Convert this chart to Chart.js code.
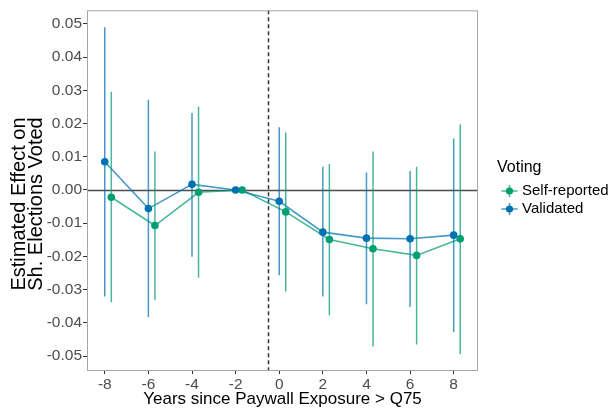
<!DOCTYPE html>
<html>
<head>
<meta charset="utf-8">
<script src="https://cdn.jsdelivr.net/npm/chart.js@4.4.1/dist/chart.umd.min.js"></script>
<style>
  html, body { margin: 0; padding: 0; background: #ffffff; }
  #wrap { width: 611px; height: 408px; }
</style>
</head>
<body>
<div id="wrap"><canvas id="c" width="611" height="408"></canvas></div>
<script>
// Event-study estimates: years relative to paywall exposure (> Q75)
const years = [-8, -6, -4, -2, 0, 2, 4, 6, 8];

// Validated turnout
const validatedEst = [0.0085, -0.0056, 0.0017, 0.0000, -0.0034, -0.0127, -0.0145, -0.0147, -0.0136];
const validatedLo  = [-0.0321, -0.0383, -0.0201, 0.0000, -0.0257, -0.0321, -0.0344, -0.0352, -0.0428];
const validatedHi  = [0.0490, 0.0272, 0.0232, 0.0000, 0.0189, 0.0070, 0.0053, 0.0057, 0.0155];

// Self-reported turnout
const selfEst = [-0.0022, -0.0107, -0.0007, 0.0000, -0.0066, -0.0149, -0.0177, -0.0197, -0.0147];
const selfLo  = [-0.0338, -0.0331, -0.0264, 0.0000, -0.0306, -0.0377, -0.0471, -0.0465, -0.0494];
const selfHi  = [0.0296, 0.0116, 0.0251, 0.0000, 0.0173, 0.0078, 0.0116, 0.0070, 0.0197];

// Axis ticks and reference lines
const xTicks = [-8, -6, -4, -2, 0, 2, 4, 6, 8];
const yTicks = [-0.05, -0.04, -0.03, -0.02, -0.01, 0.00, 0.01, 0.02, 0.03, 0.04, 0.05];
const treatmentLine = -0.5;
const zeroLine = 0;

// Horizontal offset of the self-reported series so both ranges are visible
const DODGE = 0.3;

const seriesNames = ['Self-reported', 'Validated'];
const colSelf = '#009E73', colVal = '#0072B2';
const colSelfA = 'rgba(0,158,115,0.72)', colValA = 'rgba(0,114,178,0.72)';

const pts = (est, off) => years.map((x, i) => ({ x: x + off, y: est[i] }));
const ranges = (lo, hi, off) => {
  const out = [];
  years.forEach((x, i) => {
    if (lo[i] === hi[i]) return;
    out.push({ x: x + off, y: lo[i] }, { x: x + off, y: hi[i] }, { x: x + off, y: null });
  });
  return out;
};

const FONT = "'Liberation Sans', Arial, Helvetica, sans-serif";

const decorations = {
  id: 'decorations',
  beforeDatasetsDraw(chart) {
    const { ctx, chartArea: a, scales: { x, y } } = chart;
    ctx.save();
    // zero reference line
    const yz = Math.round(y.getPixelForValue(zeroLine)) + 0.5;
    ctx.strokeStyle = '#4d4d4d';
    ctx.lineWidth = 1.6;
    ctx.beginPath(); ctx.moveTo(a.left, yz); ctx.lineTo(a.right, yz); ctx.stroke();
    // treatment onset
    const xt = Math.round(x.getPixelForValue(treatmentLine)) + 0.5;
    ctx.strokeStyle = '#333333';
    ctx.lineWidth = 1.5;
    ctx.setLineDash([4, 3]);
    ctx.beginPath(); ctx.moveTo(xt, a.top); ctx.lineTo(xt, a.bottom); ctx.stroke();
    ctx.restore();
  },
  afterDraw(chart) {
    const { ctx, chartArea: a } = chart;
    ctx.save();
    // panel frame
    ctx.strokeStyle = '#a6a6a6';
    ctx.lineWidth = 1;
    ctx.strokeRect(a.left + 0.5, a.top + 0.5, a.right - a.left - 1, a.bottom - a.top);

    // y axis title (two lines)
    ctx.fillStyle = '#000000';
    ctx.font = '20px ' + FONT;
    ctx.textAlign = 'center';
    ctx.textBaseline = 'alphabetic';
    ctx.translate(0, 204);
    ctx.rotate(-Math.PI / 2);
    ctx.fillText('Estimated Effect on', 0, 25);
    ctx.fillText('Sh. Elections Voted', 0, 41.5);
    ctx.restore();

    // legend
    ctx.save();
    ctx.fillStyle = '#000000';
    ctx.textAlign = 'left';
    ctx.textBaseline = 'middle';
    ctx.font = '16px ' + FONT;
    ctx.fillText('Voting', 497, 168);
    const rows = [[seriesNames[0], colSelf, colSelfA, 191], [seriesNames[1], colVal, colValA, 209]];
    ctx.font = '15px ' + FONT;
    rows.forEach(([label, solid, soft, cy]) => {
      const cx = 509.5;
      ctx.strokeStyle = soft;
      ctx.lineWidth = 1.5;
      ctx.beginPath();
      ctx.moveTo(cx - 8, cy); ctx.lineTo(cx + 8, cy);
      ctx.moveTo(cx, cy - 6); ctx.lineTo(cx, cy + 6);
      ctx.stroke();
      ctx.fillStyle = solid;
      ctx.beginPath(); ctx.arc(cx, cy, 3.6, 0, Math.PI * 2); ctx.fill();
      ctx.fillStyle = '#000000';
      ctx.fillText(label, 522, cy);
    });
    ctx.restore();
  }
};

new Chart(document.getElementById('c'), {
  type: 'scatter',
  data: {
    datasets: [
      { label: seriesNames[1] + ' points', data: pts(validatedEst, 0), showLine: false,
        pointRadius: 3.8, pointBackgroundColor: colVal, pointBorderWidth: 0, order: 0 },
      { label: seriesNames[0] + ' points', data: pts(selfEst, DODGE), showLine: false,
        pointRadius: 3.8, pointBackgroundColor: colSelf, pointBorderWidth: 0, order: 1 },
      { label: seriesNames[1] + ' range', data: ranges(validatedLo, validatedHi, 0), showLine: true,
        spanGaps: false, pointRadius: 0, borderColor: colValA, borderWidth: 1.5, order: 2 },
      { label: seriesNames[0] + ' range', data: ranges(selfLo, selfHi, DODGE), showLine: true,
        spanGaps: false, pointRadius: 0, borderColor: colSelfA, borderWidth: 1.5, order: 3 },
      { label: seriesNames[1] + ' path', data: pts(validatedEst, 0), showLine: true,
        pointRadius: 0, borderColor: colValA, borderWidth: 1.6, order: 4 },
      { label: seriesNames[0] + ' path', data: pts(selfEst, DODGE), showLine: true,
        pointRadius: 0, borderColor: colSelfA, borderWidth: 1.6, order: 5 }
    ]
  },
  options: {
    responsive: false,
    animation: false,
    devicePixelRatio: 1,
    layout: { padding: { top: 7, right: 133, bottom: 0, left: 0 } },
    plugins: { legend: { display: false }, tooltip: { enabled: false } },
    scales: {
      x: {
        type: 'linear',
        min: -8.815, max: 9.115,
        afterBuildTicks: s => { s.ticks = xTicks.map(v => ({ value: v })); },
        afterFit: s => { s.height = 38; },
        grid: { display: true, drawOnChartArea: false, drawTicks: true, tickLength: 4, color: '#333333', lineWidth: 1 },
        border: { display: false },
        ticks: { color: '#4d4d4d', font: { family: FONT, size: 15.5 }, padding: 1, maxRotation: 0,
                 callback: v => String(v) },
        title: { display: true, text: 'Years since Paywall Exposure > Q75', color: '#000000',
                 font: { family: FONT, size: 17, lineHeight: 1 }, padding: { top: 0, bottom: 0.5 } }
      },
      y: {
        type: 'linear',
        min: -0.0542, max: 0.0541,
        afterBuildTicks: s => { s.ticks = yTicks.map(v => ({ value: v })); },
        afterFit: s => { s.width = 87; },
        grid: { display: true, drawOnChartArea: false, drawTicks: true, tickLength: 4, color: '#333333', lineWidth: 1 },
        border: { display: false },
        ticks: { color: '#4d4d4d', font: { family: FONT, size: 15.5 }, padding: 1,
                 callback: v => Number(v).toFixed(2) }
      }
    }
  },
  plugins: [decorations]
});
</script>
</body>
</html>
